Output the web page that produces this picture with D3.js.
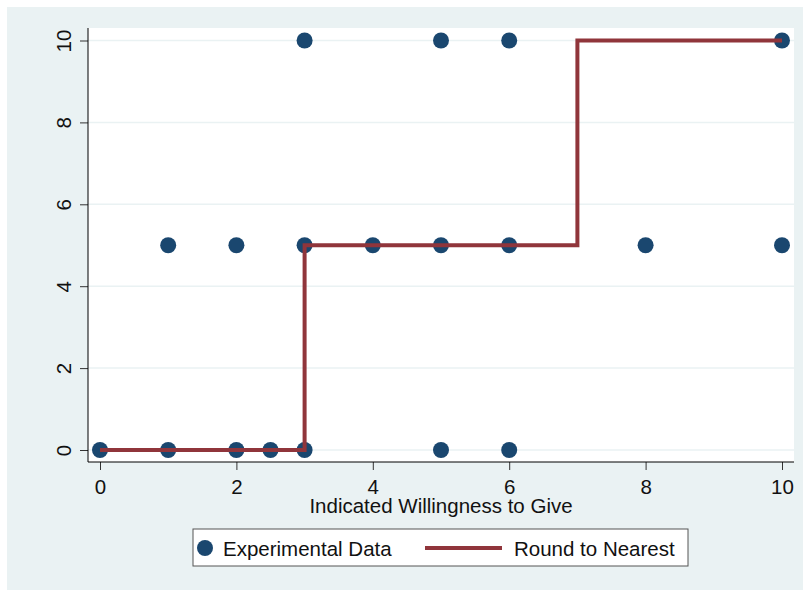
<!DOCTYPE html>
<html>
<head>
<meta charset="utf-8">
<script src="https://cdn.jsdelivr.net/npm/d3@7"></script>
<style>
  body { margin: 0; background: #fff; }
  svg text { font-family: "Liberation Sans", Arial, sans-serif; fill: #111; }
</style>
</head>
<body>
<svg id="chart" width="803" height="590"></svg>
<script>
// experimental data (x = indicated willingness, y = given)
const dataX = [3, 5, 6, 10, 1, 2, 3, 4, 5, 6, 8, 10, 0, 1, 2, 2.5, 3, 5, 6];
const dataY = [10, 10, 10, 10, 5, 5, 5, 5, 5, 5, 5, 5, 0, 0, 0, 0, 0, 0, 0];
// round-to-nearest step line
const lineX = [0, 3, 3, 7, 7, 10];
const lineY = [0, 0, 5, 5, 10, 10];
const xTicks = [0, 2, 4, 6, 8, 10];
const yTicks = [0, 2, 4, 6, 8, 10];

const svg = d3.select("#chart");
const navy = "#1a476f", maroon = "#90353b", bg = "#eaf2f3";
const FONT = "20.5px";

// graph region
svg.append("rect")
  .attr("x", 7).attr("y", 7)
  .attr("width", 796).attr("height", 583)
  .attr("fill", bg);

// plot region
const plot = {left: 88, right: 794, top: 28, bottom: 462};
svg.append("rect")
  .attr("x", plot.left).attr("y", plot.top)
  .attr("width", plot.right - plot.left)
  .attr("height", plot.bottom - plot.top)
  .attr("fill", "#fff");

const x = d3.scaleLinear().domain([0, 10]).range([100, 782]);
const y = d3.scaleLinear().domain([0, 10]).range([450, 40.5]);

// grid lines
svg.append("g")
  .selectAll("line")
  .data(yTicks)
  .enter()
  .append("line")
  .attr("x1", plot.left).attr("x2", plot.right)
  .attr("y1", d => y(d)).attr("y2", d => y(d))
  .attr("stroke", bg)
  .attr("stroke-width", 1.5);

// y axis
const yAxis = svg.append("g")
  .attr("transform", `translate(${plot.left},0)`)
  .call(d3.axisLeft(y).tickValues(yTicks).tickSize(8).tickPadding(0).tickSizeOuter(0));
yAxis.select(".domain").remove();
yAxis.append("line")
  .attr("x1", 0).attr("x2", 0)
  .attr("y1", plot.top).attr("y2", plot.bottom)
  .attr("stroke", "#000");
yAxis.selectAll(".tick line").attr("stroke", "#333");
yAxis.selectAll(".tick text")
  .attr("transform", "rotate(-90)")
  .attr("x", 0).attr("y", -17)
  .attr("dy", 0)
  .attr("text-anchor", "middle")
  .style("font-size", FONT)
  .style("font-family", "Liberation Sans, Arial, sans-serif")
  .attr("fill", "#111");

// x axis
const xAxis = svg.append("g")
  .attr("transform", `translate(0,${plot.bottom})`)
  .call(d3.axisBottom(x).tickValues(xTicks).tickSize(8).tickSizeOuter(0));
xAxis.select(".domain").remove();
xAxis.append("line")
  .attr("x1", plot.left).attr("x2", plot.right)
  .attr("y1", 0).attr("y2", 0)
  .attr("stroke", "#000");
xAxis.selectAll(".tick line").attr("stroke", "#333");
xAxis.selectAll(".tick text")
  .attr("y", 32).attr("dy", 0)
  .style("font-size", FONT)
  .style("font-family", "Liberation Sans, Arial, sans-serif")
  .attr("fill", "#111");

// axis title
svg.append("text")
  .attr("x", (plot.left + plot.right) / 2)
  .attr("y", 513)
  .attr("text-anchor", "middle")
  .style("font-size", FONT)
  .text("Indicated Willingness to Give");

// points
const pts = dataX.map((d, i) => [d, dataY[i]]);
svg.append("g")
  .selectAll("circle")
  .data(pts)
  .enter()
  .append("circle")
  .attr("cx", d => x(d[0]))
  .attr("cy", d => y(d[1]))
  .attr("r", 8)
  .attr("fill", navy);

// step line
const linePts = lineX.map((d, i) => [d, lineY[i]]);
svg.append("path")
  .datum(linePts)
  .attr("d", d3.line().x(d => x(d[0])).y(d => y(d[1])))
  .attr("fill", "none")
  .attr("stroke", maroon)
  .attr("stroke-width", 4)
  .attr("stroke-linejoin", "miter");

// legend
const legend = svg.append("g");
legend.append("rect")
  .attr("x", 193).attr("y", 529)
  .attr("width", 495).attr("height", 37)
  .attr("fill", "#fff")
  .attr("stroke", "#555")
  .attr("stroke-width", 1);
legend.append("circle")
  .attr("cx", 205).attr("cy", 548).attr("r", 8)
  .attr("fill", navy);
legend.append("text")
  .attr("x", 223).attr("y", 555.5)
  .style("font-size", FONT)
  .text("Experimental Data");
legend.append("line")
  .attr("x1", 425).attr("x2", 502)
  .attr("y1", 548).attr("y2", 548)
  .attr("stroke", maroon)
  .attr("stroke-width", 4);
legend.append("text")
  .attr("x", 514).attr("y", 555.5)
  .style("font-size", FONT)
  .text("Round to Nearest");
</script>
</body>
</html>
